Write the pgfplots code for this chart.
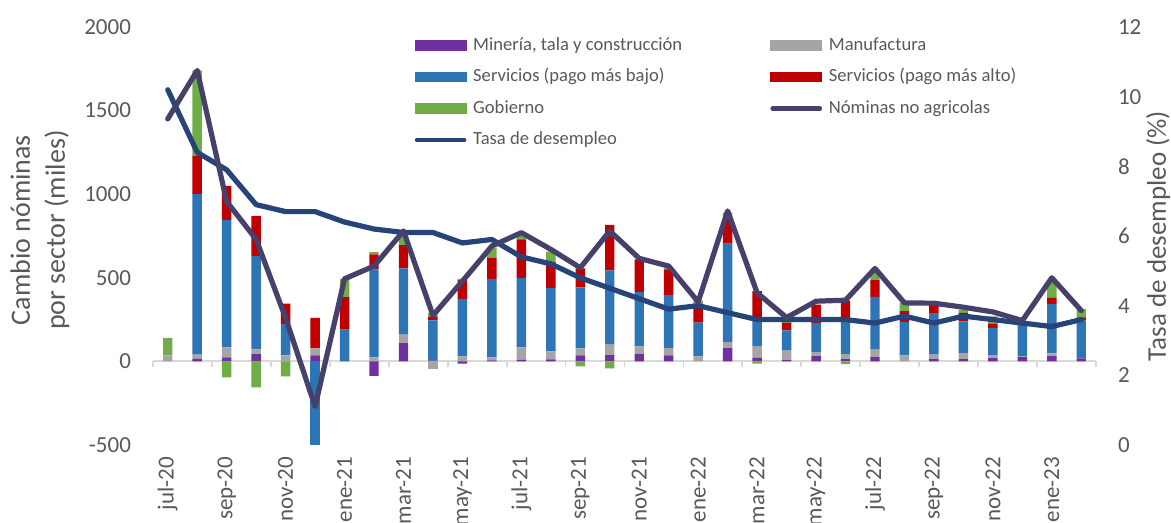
\documentclass[border=0pt]{standalone}
\usepackage{pgfplots}
\pgfplotsset{compat=1.18}
\usepackage{pgfplotstable}
\usepackage{fontspec}
\setmainfont{Carlito}

\definecolor{cmin}{HTML}{7030A0}
\definecolor{cman}{HTML}{A5A5A5}
\definecolor{cbajo}{HTML}{2E75B6}
\definecolor{calto}{HTML}{C00000}
\definecolor{cgob}{HTML}{70AD47}
\definecolor{cnfp}{HTML}{45416B}
\definecolor{cdes}{HTML}{264478}
\definecolor{ctxt}{HTML}{595959}
\definecolor{caxis}{HTML}{D9D9D9}

\pgfplotstableread{
i  min  man  bajo  alto  gob  nfp   des
0  0    36   0     0     104  1450  10.2
1  16   24   960   230   510  1740  8.4
2  24   60   762   204   -96  956   7.9
3  44   28   558   240   -156 730   6.9
4  0    36   188   122   -90  260   6.7
5  36   42   -520  182   0    -270  6.7
6  0    0    190   194   110  494   6.4
7  -86  24   526   90    14   570   6.2
8  110  50   396   140   48   780   6.1
9  6    -46  240   24    20   275   6.1
10 -14  30   344   112   8    480   5.8
11 6    18   470   126   60   690   5.9
12 10   74   414   232   20   770   5.4
13 12   48   380   156   60   670   5.2
14 36   42   364   114   -30  560   4.8
15 38   62   444   272   -42  780   4.5
16 44   46   324   196   0    616   4.2
17 36   44   316   154   10   570   3.9
18 0    30   202   112   20   356   4.0
19 80   36   588   156   30   900   3.8
20 22   66   176   156   -14  410   3.6
21 8    56   122   44    14   262   3.6
22 32   24   174   110   0    360   3.6
23 14   30   192   128   -16  366   3.6
24 26   44   316   100   50   556   3.5
25 0    36   200   64    50   350   3.7
26 14   26   248   42    0    348   3.5
27 14   36   190   50    20   324   3.7
28 20   18   162   24    46   296   3.6
29 26   6    188   0     0    244   3.5
30 32   16   296   36    100  500   3.4
31 18   0    226   20    50   304   3.6
}\datatab

\pgfplotsset{
  base/.style={width=471.5pt, height=209pt, scale only axis,
    xmin=-0.5, xmax=31.5, enlargelimits=false},
  barleg/.style={legend image code/.code={\fill[##1] (0pt,-2.6pt) rectangle (26pt,2.6pt);}},
  lineleg/.style={legend image code/.code={\draw[##1, line width=2.2pt, line cap=round] (1.2pt,0pt) -- (24.8pt,0pt);}},
}

\begin{document}
\begin{tikzpicture}
% zero line with tick marks
\begin{axis}[base, ymin=-500, ymax=2000,
  axis x line=middle, axis y line=none,
  x axis line style={caxis, line width=0.9pt, -},
  xtick={-0.5,1.5,...,31.5}, xticklabels={},
  xtick style={caxis, line width=0.9pt},
  tick align=outside, major tick length=3pt]
\end{axis}

% positive bars, left axis and category labels
\begin{axis}[base, ymin=-500, ymax=2000,
  ybar stacked, bar width=0.32,
  axis y line*=left, axis x line*=bottom,
  axis line style={draw=none}, major tick length=0pt,
  ytick={-500,0,500,1000,1500,2000},
  yticklabels={-500,0,500,1000,1500,2000},
  yticklabel style={font=\fontsize{11.5}{13}\selectfont, text=ctxt, xshift=-7.5pt},
  xtick={0,2,...,30},
  xticklabels={jul-20,sep-20,nov-20,ene-21,mar-21,may-21,jul-21,sep-21,nov-21,ene-22,mar-22,may-22,jul-22,sep-22,nov-22,ene-23},
  xticklabel style={rotate=90, anchor=east, font=\fontsize{11.5}{13}\selectfont, text=ctxt},
  xticklabel shift=2.5pt,
  ylabel={Cambio nóminas\\por sector (miles)},
  ylabel style={align=center, at={(axis description cs:-0.12,0.514)}, anchor=center,
    font=\fontsize{14}{17.5}\selectfont, text=ctxt},
]
\addplot[fill=cmin, draw=none] table[x=i, y expr={max(\thisrow{min},0)}] {\datatab};
\addplot[fill=cman, draw=none] table[x=i, y expr={max(\thisrow{man},0)}] {\datatab};
\addplot[fill=cbajo, draw=none] table[x=i, y expr={max(\thisrow{bajo},0)}] {\datatab};
\addplot[fill=calto, draw=none] table[x=i, y expr={max(\thisrow{alto},0)}] {\datatab};
\addplot[fill=cgob, draw=none] table[x=i, y expr={max(\thisrow{gob},0)}] {\datatab};
\end{axis}

% negative bars
\begin{axis}[base, ymin=-500, ymax=2000, hide axis,
  ybar stacked, bar width=0.32]
\addplot[fill=cmin, draw=none] table[x=i, y expr={min(\thisrow{min},0)}] {\datatab};
\addplot[fill=cman, draw=none] table[x=i, y expr={min(\thisrow{man},0)}] {\datatab};
\addplot[fill=cbajo, draw=none] table[x=i, y expr={min(\thisrow{bajo},0)}] {\datatab};
\addplot[fill=calto, draw=none] table[x=i, y expr={min(\thisrow{alto},0)}] {\datatab};
\addplot[fill=cgob, draw=none] table[x=i, y expr={min(\thisrow{gob},0)}] {\datatab};
\end{axis}

% unemployment rate, right axis
\begin{axis}[base, ymin=0, ymax=12,
  axis y line*=right, axis x line=none,
  y axis line style={draw=none}, major tick length=0pt,
  ytick={0,2,4,6,8,10,12}, yticklabels={0,2,4,6,8,10,12},
  yticklabel style={font=\fontsize{11.5}{13}\selectfont, text=ctxt, xshift=7.5pt},
  ylabel={Tasa de desempleo (\%)},
  ylabel style={at={(axis description cs:1.066,0.5)}, anchor=center,
    font=\fontsize{13.5}{16}\selectfont, text=ctxt},
]
\addplot[cdes, line width=2.6pt, line join=round, line cap=round, no markers]
  table[x=i, y=des] {\datatab};
\end{axis}

% payrolls line and legend
\begin{axis}[base, ymin=-500, ymax=2000, hide axis,
  legend columns=2, legend cell align=left,
  legend style={at={(axis description cs:0.277,0.979)}, anchor=north west,
    draw=none, fill=none, inner sep=0pt,
    font=\fontsize{9.3}{11}\selectfont, text=ctxt,
    nodes={inner ysep=0pt, text height=7pt, text depth=2.2pt},
    row sep=6.6pt,
    /tikz/every odd column/.append style={column sep=1.3pt},
    /tikz/every even column/.append style={column sep=42pt}},
]
\addlegendimage{barleg, fill=cmin, draw=none}
\addlegendentry{Minería, tala y construcción}
\addlegendimage{barleg, fill=cman, draw=none}
\addlegendentry{Manufactura}
\addlegendimage{barleg, fill=cbajo, draw=none}
\addlegendentry{Servicios (pago más bajo)}
\addlegendimage{barleg, fill=calto, draw=none}
\addlegendentry{Servicios (pago más alto)}
\addlegendimage{barleg, fill=cgob, draw=none}
\addlegendentry{Gobierno}
\addlegendimage{lineleg, cnfp}
\addlegendentry{Nóminas no agricolas}
\addlegendimage{lineleg, cdes}
\addlegendentry{Tasa de desempleo}
\addplot[cnfp, line width=2.6pt, line join=round, line cap=round, no markers, forget plot]
  table[x=i, y=nfp] {\datatab};
\end{axis}

\pgfresetboundingbox
\path[use as bounding box] (-76.5pt,-39pt) rectangle (509pt,222.5pt);
\end{tikzpicture}
\end{document}
